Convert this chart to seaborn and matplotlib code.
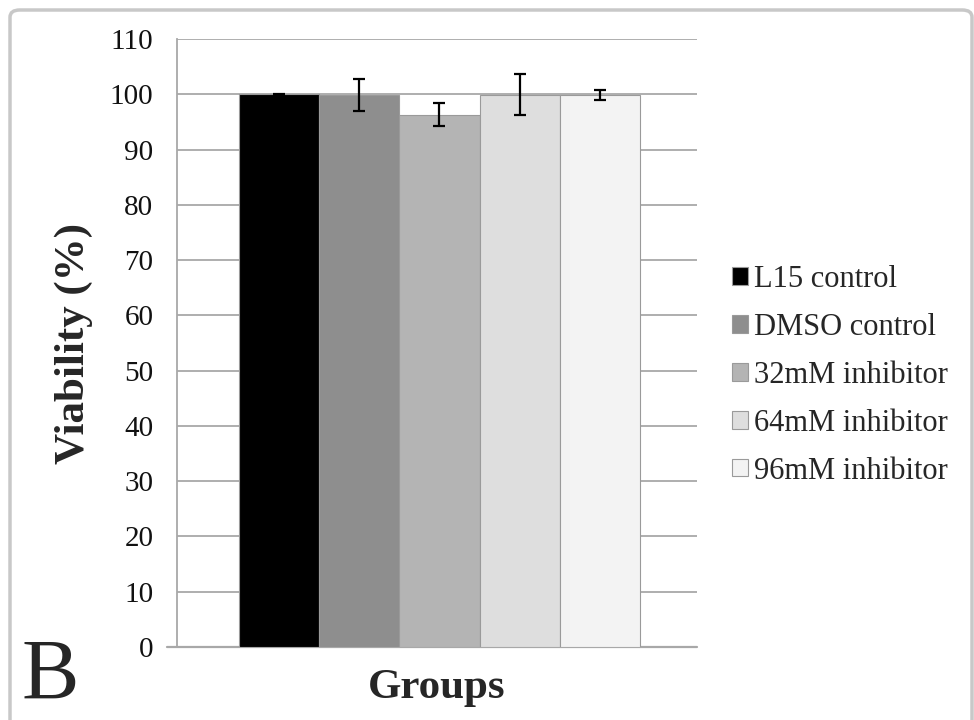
import matplotlib
matplotlib.use("Agg")
import matplotlib.pyplot as plt
from matplotlib.patches import FancyBboxPatch
import seaborn as sns
import pandas as pd

groups = ["L15 control", "DMSO control", "32mM inhibitor", "64mM inhibitor", "96mM inhibitor"]
viability = [100.0, 99.9, 96.3, 99.9, 99.9]
errors = [0.1, 2.9, 2.1, 3.7, 0.9]
colors = ["#000000", "#8e8e8e", "#b4b4b4", "#dedede", "#f3f3f3"]
yticks = [0, 10, 20, 30, 40, 50, 60, 70, 80, 90, 100, 110]

sns.set_theme(style="white")
plt.rcParams["font.family"] = ["Liberation Serif", "DejaVu Serif"]

df = pd.DataFrame({"group": groups, "viability": viability})

fig = plt.figure(figsize=(9.74, 7.2), dpi=100)
ax = fig.add_axes([177 / 974, 1 - 647 / 720, (697 - 177) / 974, (647 - 39) / 720])

sns.barplot(data=df, x="group", y="viability", hue="group", palette=colors,
            hue_order=groups, order=groups, width=1.0, errorbar=None,
            edgecolor="#9a9a9a", linewidth=0.8, ax=ax, legend=True, zorder=3)

ax.errorbar(x=list(range(len(groups))), y=viability, yerr=errors, fmt="none",
            ecolor="black", elinewidth=1.6, capsize=4, capthick=1.6, zorder=4)

ax.set_xlim(-1.27, 5.21)
ax.set_ylim(0, 110)
ax.set_yticks(yticks)
ax.set_yticklabels([str(t) for t in yticks], fontsize=21)
ax.set_xticks([])
ax.yaxis.grid(True, color="#a8a8a8", linewidth=1.3, zorder=0)
ax.set_axisbelow(True)
for s in ["top", "right", "bottom"]:
    ax.spines[s].set_visible(False)
ax.spines["left"].set_color("#a8a8a8")
ax.spines["left"].set_linewidth(1.3)
ax.tick_params(axis="y", length=10, width=1.3, color="#a8a8a8", pad=7, labelcolor="#111111")
# bottom baseline
ax.axhline(0, color="#a8a8a8", linewidth=1.6, zorder=2, xmin=-10 / 520, clip_on=False)

ax.set_xlabel("Groups", fontsize=31, fontweight="bold", labelpad=16)
ax.set_ylabel("Viability (%)", fontsize=31, fontweight="bold", labelpad=12)

sns.move_legend(ax, loc="center left", bbox_to_anchor=(1.015, 0.447), frameon=False,
                title=None, fontsize=22, handlelength=0.5, handleheight=0.5,
                handletextpad=0.2, labelspacing=0.62)
for h in ax.get_legend().legend_handles:
    h.set_edgecolor("#9a9a9a")

fig.text(22 / 974, 1 - 678 / 720, "B", fontsize=62, va="center", ha="left")

border = FancyBboxPatch((10 / 974, -0.05), (972 - 10) / 974, 1.05 - 10 / 720,
                        boxstyle="round,pad=0,rounding_size=0.01",
                        transform=fig.transFigure, fill=False,
                        edgecolor="#c8c8c8", linewidth=2.5)
fig.patches.append(border)

fig.savefig("out.png", dpi=100)
